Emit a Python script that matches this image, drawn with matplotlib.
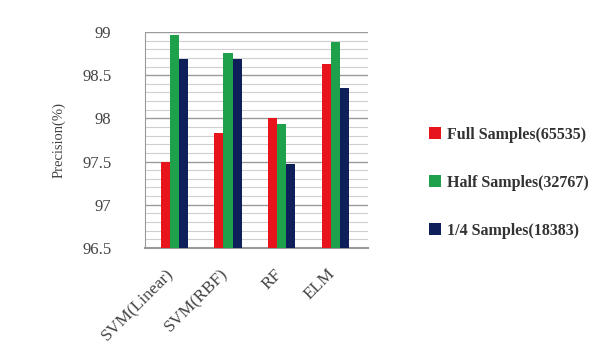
import numpy as np
from matplotlib import pyplot as plt
from matplotlib.ticker import MultipleLocator

plt.rcParams['font.family'] = ['Liberation Serif', 'DejaVu Serif']

methods = ['SVM(Linear)', 'SVM(RBF)', 'RF', 'ELM']
full = [97.50, 97.83, 98.00, 98.63]
half = [98.96, 98.76, 97.93, 98.88]
quarter = [98.69, 98.69, 97.47, 98.35]
labels = ['Full Samples(65535)', 'Half Samples(32767)', '1/4 Samples(18383)']
colors = ['#e8141c', '#1fa04a', '#0e1f5a']

fig = plt.figure(figsize=(6.16, 3.63), dpi=100)
ax = fig.add_axes([0.235, 0.317, 0.362, 0.595])

x = np.arange(len(methods))
w = 0.17
bars = []
for i, (vals, c, lab) in enumerate(zip([full, half, quarter], colors, labels)):
    b = ax.bar(x + (i - 1) * w, np.array(vals) - 96.5, width=w, bottom=96.5,
               color=c, label=lab, zorder=3)
    bars.append(b)

ax.set_ylim(96.5, 99)
ax.set_xlim(-0.55, 3.6)
ax.yaxis.set_minor_locator(MultipleLocator(0.1))
ax.set_yticks([96.5, 97, 97.5, 98, 98.5, 99])
ax.set_yticklabels(['96.5', '97', '97.5', '98', '98.5', '99'], fontsize=12, color='#444444')
ax.grid(axis='y', which='minor', color='#cfcfcf', linewidth=0.8, zorder=0)
ax.grid(axis='y', which='major', color='#9a9a9a', linewidth=1.0, zorder=0)
ax.tick_params(axis='y', which='both', length=0, pad=24)
ax.tick_params(axis='x', length=0, pad=13)

ax.set_xticks(x - 0.15)
ax.set_xticklabels(methods, rotation=45, ha='right', rotation_mode='anchor',
                   fontsize=12.5, color='#444444')
for s in ['top', 'right']:
    ax.spines[s].set_visible(False)
ax.spines['left'].set_color('#999999')
ax.spines['bottom'].set_color('#999999')
ax.spines['bottom'].set_linewidth(1.5)

ax.set_ylabel('Precision(%)', fontsize=10.5, color='#444444', labelpad=12)

fig.legend(handles=bars, labels=labels, loc='upper left',
           bbox_to_anchor=(0.673, 0.69), frameon=False,
           prop={'size': 11.5, 'weight': 'bold'},
           handlelength=0.75, handleheight=0.75, handletextpad=0.35,
           labelspacing=2.0, labelcolor='#333333')

plt.savefig('out.png', dpi=100)
